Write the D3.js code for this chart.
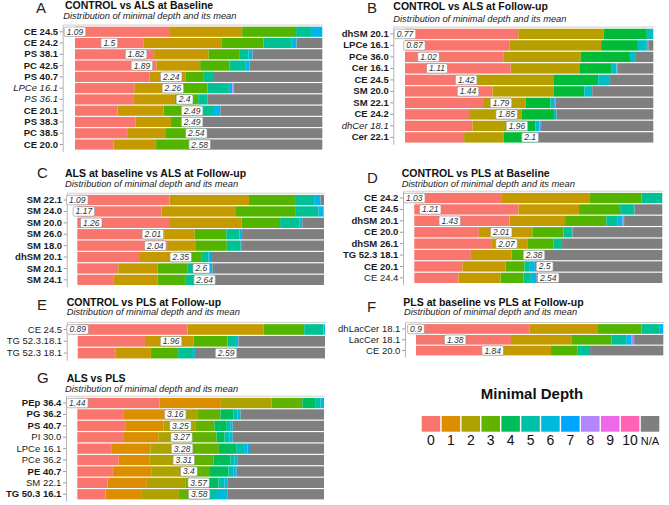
<!DOCTYPE html>
<html><head><meta charset="utf-8">
<script src="https://cdn.jsdelivr.net/npm/d3@7"></script>
<style>body{margin:0;background:#fff} svg{display:block}</style>
</head><body>
<svg id="chart" width="669" height="505"></svg>
<script>
// ---------------- DATA ----------------
const NTREE = 500;
const depthLabels = ["0","1","2","3","4","5","6","7","8","9","10","N/A"];

// Panel A: CONTROL vs ALS at Baseline  (counts per minimal depth 0..6, then N/A)
const A_variables = ["CE 24.5","CE 24.2","PS 38.1","PC 42.5","PS 40.7","LPCe 16.1","PS 36.1","CE 20.1","PS 38.3","PC 38.5","CE 20.0"];
const A_means = [1.09,1.5,1.82,1.89,2.24,2.26,2.4,2.49,2.49,2.54,2.58];
const A_counts = [
  [192,146,109,32,21,0,0,0],
  [138,159,84,56,11,0,0,52],
  [160,110,62,19,8,0,0,141],
  [165,88,59,32,9,0,0,147],
  [151,72,36,22,0,0,0,219],
  [120,98,50,43,7,3,0,179],
  [119,83,47,19,0,0,0,232],
  [86,93,78,24,13,0,0,206],
  [122,72,32,29,0,0,0,245],
  [107,77,55,22,0,0,0,239],
  [78,86,83,26,0,0,0,227]
];
const A_labelSpan = 252;

// Panel B: CONTROL vs ALS at Follow-up (depth 0..5, then N/A)
const B_variables = ["dhSM 20.1","LPCe 16.1","PCe 36.0","Cer 16.1","CE 24.5","SM 20.0","SM 22.1","CE 24.2","dhCer 18.1","Cer 22.1"];
const B_means = [0.77,0.87,1.02,1.11,1.42,1.44,1.79,1.85,1.96,2.1];
const B_counts = [
  [228,172,87,13,0,0,0],
  [211,184,74,18,3,0,10],
  [199,155,99,12,0,0,35],
  [213,138,64,11,3,0,71],
  [144,156,89,24,0,0,87],
  [176,123,62,16,0,0,123],
  [159,84,50,7,3,0,197],
  [129,106,65,5,0,0,195],
  [136,69,58,8,3,0,226],
  [119,80,59,10,0,0,232]
];
const B_labelSpan = 252;

// Panel C: ALS at baseline vs ALS at Follow-up
const C_variables = ["SM 22.1","SM 24.0","SM 20.0","SM 26.0","SM 18.0","dhSM 20.1","SM 20.1","SM 24.1"];
const C_means = [1.09,1.17,1.26,2.01,2.04,2.35,2.6,2.64];
const C_counts = [
  [187,161,93,39,13,0,0,7],
  [171,149,123,46,10,1,0,0],
  [186,147,78,39,6,0,0,44],
  [176,62,64,27,5,0,0,166],
  [182,57,64,28,3,0,0,166],
  [127,81,43,15,5,0,0,229],
  [83,80,61,44,6,0,0,226],
  [74,89,57,42,14,0,0,224]
];
const C_labelSpan = 258;

// Panel D: CONTROL vs PLS at Baseline
const D_variables = ["CE 24.2","CE 24.5","dhSM 20.1","CE 20.0","dhSM 26.1","TG 52.3 18.1","CE 20.1","CE 24.4"];
const D_means = [1.03,1.21,1.43,2.01,2.07,2.38,2.5,2.54];
const D_counts = [
  [175,179,104,42,0,0,0,0],
  [210,122,83,26,3,0,0,56],
  [192,112,83,22,11,3,0,77],
  [130,108,63,15,3,0,0,181],
  [155,74,52,15,0,0,0,204],
  [114,82,40,24,0,0,0,240],
  [97,87,38,11,10,0,0,257],
  [89,85,46,15,11,0,0,254]
];
const D_labelSpan = 270;

// Panel E: CONTROL vs PLS at Follow-up
const E_variables = ["CE 24.5","TG 52.3.18.1","TG 52.3 18.1"];
const E_means = [0.89,1.96,2.59];
const E_counts = [
  [222,154,82,39,3,0,0,0],
  [136,98,69,15,7,0,0,175],
  [77,71,55,30,4,0,0,263]
];
const E_labelSpan = 300;

// Panel F: PLS at baseline vs PLS at Follow-up
const F_variables = ["dhLacCer 18.1","LacCer 18.1","CE 20.0"];
const F_means = [0.9,1.38,1.84];
const F_counts = [
  [230,138,88,37,7,0,0,0],
  [192,122,81,30,11,5,0,59],
  [175,98,54,25,0,0,0,148]
];
const F_labelSpan = 155;

// Panel G: ALS vs PLS (depth 0..10, then N/A)
const G_variables = ["PEp 36.4","PG 36.2","PS 40.7","PI 30.0","LPCe 16.1","PCe 36.2","PE 40.7","SM 22.1","TG 50.3 16.1"];
const G_means = [1.44,3.16,3.25,3.27,3.28,3.31,3.4,3.57,3.58];
const G_counts = [
  [167,124,103,62,26,11,7,0,0,0,0,0],
  [93,101,49,47,26,9,6,0,0,0,0,169],
  [97,78,64,39,25,7,5,0,0,0,0,185],
  [93,71,64,54,16,11,6,0,0,0,0,185],
  [70,78,85,54,35,16,7,5,0,0,0,150],
  [84,63,88,41,34,9,5,0,0,0,0,176],
  [72,79,81,37,37,10,4,3,0,0,0,177],
  [61,80,78,47,20,12,7,0,0,0,0,195],
  [57,74,75,32,27,20,19,0,0,0,0,196]
];
const G_labelSpan = 247;

// ---------------- STYLES ----------------
const PAL6 = ["#F8766D","#B79F00","#00BA38","#00BFC4","#619CFF","#F564E3"];
const PAL7 = ["#F8766D","#C49A00","#53B400","#00C094","#00B6EB","#A58AFF","#FB61D7"];
const PAL11 = ["#F8766D","#DB8E00","#AEA200","#64B200","#00BD5C","#00C1A7","#00BADE","#00A6FF","#B385FF","#EF67EB","#FF63B6"];
const NA_COLOR = "#7F7F7F";

const A_styles = ["b","b","b","b","b","i","i","b","b","b","b"];
const B_styles = ["b","b","b","b","b","b","b","b","i","b"];
const C_styles = ["b","b","b","b","b","b","b","b"];
const D_styles = ["b","b","b","b","b","b","b","n"];
const E_styles = ["n","n","n"];
const F_styles = ["n","n","n"];
const G_styles = ["b","b","b","n","n","n","b","n","b"];

const FONT = "'Liberation Sans', Arial, Helvetica, sans-serif";

const panels = [
  {letter:"A", title:"CONTROL vs ALS at Baseline", vars:A_variables, means:A_means, counts:A_counts, span:A_labelSpan, pal:PAL7, styles:A_styles,
   L:{letterX:36, letterY:12.5, titleX:65, titleY:9.4, subX:63.3, subY:18.8, axisX:62.7, x0:75, x1:322.3, top:25, bottom:151.3}},
  {letter:"B", title:"CONTROL vs ALS at Follow-up", vars:B_variables, means:B_means, counts:B_counts, span:B_labelSpan, pal:PAL6, styles:B_styles,
   L:{letterX:367, letterY:12.7, titleX:393.3, titleY:9.7, subX:393.3, subY:21.5, axisX:393.3, x0:405, x1:653.3, top:27, bottom:144.3}},
  {letter:"C", title:"ALS at baseline vs ALS at Follow-up", vars:C_variables, means:C_means, counts:C_counts, span:C_labelSpan, pal:PAL7, styles:C_styles,
   L:{letterX:37, letterY:178.3, titleX:65, titleY:176.7, subX:65, subY:186.5, axisX:66.7, x0:77.3, x1:324, top:193.2, bottom:286.7}},
  {letter:"D", title:"CONTROL vs PLS at Baseline", vars:D_variables, means:D_means, counts:D_counts, span:D_labelSpan, pal:PAL7, styles:D_styles,
   L:{letterX:367, letterY:183.3, titleX:401.7, titleY:177.4, subX:401.7, subY:187.2, axisX:403, x0:414.3, x1:662.3, top:191.2, bottom:284.7}},
  {letter:"E", title:"CONTROL vs PLS at Follow-up", vars:E_variables, means:E_means, counts:E_counts, span:E_labelSpan, pal:PAL7, styles:E_styles,
   L:{letterX:37, letterY:310, titleX:66.7, titleY:305.6, subX:66.7, subY:315.2, axisX:66.7, x0:77.7, x1:325, top:322.4, bottom:360.2}},
  {letter:"F", title:"PLS at baseline vs PLS at Follow-up", vars:F_variables, means:F_means, counts:F_counts, span:F_labelSpan, pal:PAL7, styles:F_styles,
   L:{letterX:367, letterY:311.7, titleX:403.3, titleY:305.6, subX:404, subY:315.2, axisX:405, x0:416, x1:663.3, top:322.5, bottom:357}},
  {letter:"G", title:"ALS vs PLS", vars:G_variables, means:G_means, counts:G_counts, span:G_labelSpan, pal:PAL11, styles:G_styles,
   L:{letterX:37, letterY:383.3, titleX:66.7, titleY:381.7, subX:65, subY:391.5, axisX:66, x0:77.3, x1:324, top:396.2, bottom:501.1}}
];

// ---------------- DRAW ----------------
const svg = d3.select("#chart").style("font-family", FONT);

panels.forEach(p => {
  const L = p.L;
  const g = svg.append("g");
  const x = d3.scaleLinear().domain([0, NTREE]).range([L.x0, L.x1]);
  const y = d3.scaleBand().domain(p.vars).range([L.top, L.bottom]).paddingInner(0.1).paddingOuter(0.15);
  const lab = d3.scaleLinear().domain(d3.extent(p.means)).range([0, p.span]);
  const colorOf = k => k < p.pal.length ? p.pal[k] : NA_COLOR;

  // headings
  g.append("text").attr("x", L.letterX).attr("y", L.letterY).attr("font-size", 15).attr("fill", "#222").text(p.letter);
  g.append("text").attr("x", L.titleX).attr("y", L.titleY).attr("font-size", 10.5).attr("font-weight", "bold").attr("fill", "#111").text(p.title);
  g.append("text").attr("x", L.subX).attr("y", L.subY).attr("font-size", 9.3).attr("font-style", "italic").attr("fill", "#222")
    .text("Distribution of minimal depth and its mean");

  // panel frame
  g.append("line").attr("x1", L.axisX).attr("x2", L.x1 + 1).attr("y1", L.top).attr("y2", L.top).attr("stroke", "#d0d0d0").attr("stroke-width", 1);

  // stacked bars
  p.vars.forEach((v, i) => {
    const row = p.counts[i];
    const ends = d3.cumsum(row);
    row.forEach((c, k) => {
      if (c <= 0) return;
      const start = ends[k] - c;
      g.append("rect")
        .attr("x", x(start)).attr("width", x(ends[k]) - x(start))
        .attr("y", y(v)).attr("height", y.bandwidth())
        .attr("fill", colorOf(k));
    });
  });

  // axis
  const ax = g.append("g").attr("transform", `translate(${L.axisX},0)`)
    .call(d3.axisLeft(y).tickSize(3).tickSizeOuter(0).tickPadding(1.6));
  ax.select(".domain").attr("stroke", "#b5b5b5");
  ax.selectAll(".tick line").attr("stroke", "#999");
  ax.selectAll(".tick text")
    .attr("font-family", FONT).attr("font-size", 9.5).attr("fill", "#1a1a1a")
    .attr("font-weight", (d, i) => p.styles[i] === "b" ? "bold" : "normal")
    .attr("font-style", (d, i) => p.styles[i] === "i" ? "italic" : "normal");

  // mean labels
  p.vars.forEach((v, i) => {
    const cx = x(lab(p.means[i]));
    const cy = y(v) + y.bandwidth() / 2;
    const lg = g.append("g").attr("transform", `translate(${cx},${cy})`);
    const rect = lg.append("rect");
    const t = lg.append("text").attr("text-anchor", "middle").attr("dy", "0.35em")
      .attr("font-size", 8.5).attr("font-style", "italic").attr("fill", "#333").text(String(p.means[i]));
    const w = t.node().getComputedTextLength() + 5;
    const h = 9.5;
    rect.attr("x", -w / 2).attr("y", -h / 2).attr("width", w).attr("height", h)
      .attr("rx", 1.5).attr("fill", "#fff").attr("stroke", "#8f8f8f").attr("stroke-width", 0.6);
  });
});

// ---------------- LEGEND ----------------
const legendColors = PAL11.concat([NA_COLOR]);
const lx = d3.scaleBand().domain(depthLabels).range([421.7, 421.7 + 19.8 * 12]).paddingInner(0.07);
const leg = svg.append("g");
leg.append("text").attr("x", 532).attr("y", 399).attr("text-anchor", "middle")
  .attr("font-size", 15).attr("font-weight", "bold").attr("fill", "#111").text("Minimal Depth");
leg.selectAll("rect.key").data(depthLabels).enter().append("rect")
  .attr("x", d => lx(d)).attr("y", 416).attr("width", lx.bandwidth()).attr("height", 15.7)
  .attr("fill", (d, i) => legendColors[i]);
leg.selectAll("text.kl").data(depthLabels).enter().append("text")
  .attr("x", d => lx(d) + lx.bandwidth() / 2).attr("y", 444.5).attr("text-anchor", "middle")
  .attr("font-size", d => d === "N/A" ? 11 : 14).attr("fill", "#111").text(d => d);
</script>
</body></html>
